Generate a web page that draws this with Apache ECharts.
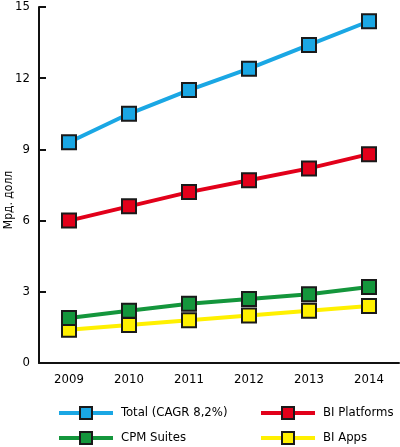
<!DOCTYPE html>
<html>
<head>
<meta charset="utf-8">
<script src="https://cdn.jsdelivr.net/npm/echarts@6/dist/echarts.min.js"></script>
<style>
  html, body { margin: 0; padding: 0; background: #fff; }
  #chart { width: 400px; height: 447px; }
</style>
</head>
<body>
<div id="chart"></div>
<script>
const years = ['2009', '2010', '2011', '2012', '2013', '2014'];
const totalVals = [9.3, 10.5, 11.5, 12.4, 13.4, 14.4];
const platformVals = [6.0, 6.6, 7.2, 7.7, 8.2, 8.8];
const cpmVals = [1.9, 2.2, 2.5, 2.7, 2.9, 3.2];
const appsVals = [1.4, 1.6, 1.8, 2.0, 2.2, 2.4];
const seriesNames = ['Total (CAGR 8,2%)', 'BI Platforms', 'CPM Suites', 'BI Apps'];
const seriesColors = ['#1aa7e4', '#e2001a', '#14963c', '#fff000'];

const font = "'DejaVu Sans Condensed', sans-serif";

let chart = echarts.init(document.getElementById('chart'));

function makeSeries(i, vals) {
    return {
        name: seriesNames[i],
        type: 'line',
        data: vals,
        symbol: 'rect',
        symbolSize: 14,
        z: 10 - i,
        lineStyle: { color: seriesColors[i], width: 4 },
        itemStyle: { color: seriesColors[i], borderColor: '#1a1a1a', borderWidth: 2 },
        emphasis: { disabled: true }
    };
}

// one legend per item so the 2x2 layout sits exactly where it should
function makeLegend(i, left, top) {
    return {
        data: [seriesNames[i]],
        left: left,
        top: top,
        padding: 0,
        itemWidth: 54,
        itemHeight: 15,
        lineStyle: { width: 4 },
        textStyle: { fontFamily: font, fontSize: 13, color: '#000', padding: [0, 0, 0, 3] },
        selectedMode: false
    };
}

let option = {
    animation: false,
    grid: { left: 39, right: 1, top: 7, bottom: 84, outerBoundsMode: 'none', containLabel: false },
    legend: [
        makeLegend(0, 57, 406),
        makeLegend(1, 259, 406),
        makeLegend(2, 57, 431),
        makeLegend(3, 259, 431)
    ],
    xAxis: {
        type: 'category',
        data: years,
        boundaryGap: true,
        axisLine: { lineStyle: { color: '#111', width: 2 } },
        axisTick: { inside: true, length: 8, lineStyle: { color: '#111', width: 2 } },
        axisLabel: { fontFamily: font, fontSize: 13, color: '#000', margin: 10 }
    },
    yAxis: {
        type: 'value',
        min: 0,
        max: 15,
        interval: 3,
        name: 'Мрд. долл',
        nameLocation: 'middle',
        nameGap: 24,
        nameRotate: 90,
        nameMoveOverlap: false,
        nameTextStyle: { fontFamily: font, fontSize: 12, color: '#000', padding: [0, 30, 0, 0] },
        axisLine: { show: true, lineStyle: { color: '#111', width: 2 } },
        axisTick: { show: true, inside: true, length: 7, lineStyle: { color: '#111', width: 2 } },
        splitLine: { show: false },
        axisLabel: { fontFamily: font, fontSize: 13, color: '#000', margin: 9 }
    },
    series: [
        makeSeries(0, totalVals),
        makeSeries(1, platformVals),
        makeSeries(2, cpmVals),
        makeSeries(3, appsVals)
    ]
};

chart.setOption(option);
</script>
</body>
</html>
